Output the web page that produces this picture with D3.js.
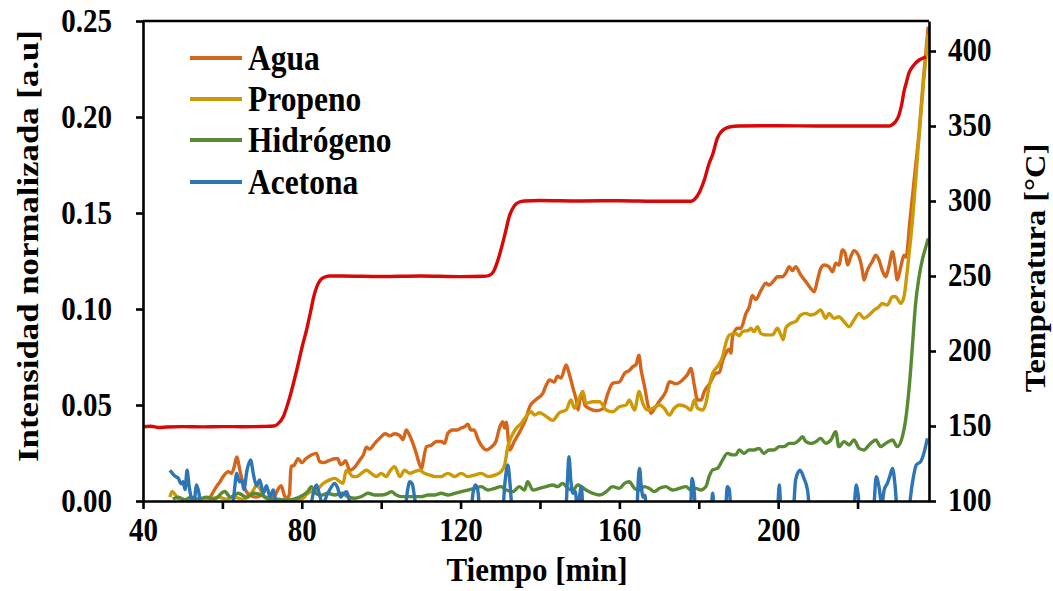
<!DOCTYPE html>
<html><head><meta charset="utf-8">
<script src="https://cdn.jsdelivr.net/npm/d3@7"></script>
<style>body{margin:0;background:#fff}svg{display:block}</style>
</head><body>
<svg id="c" width="1053" height="591"></svg>
<script>
// ---- data ----
const seriesNames = ["Agua", "Propeno", "Hidrógeno", "Acetona"];
const xTickValues = [40, 60, 80, 100, 120, 140, 160, 180, 200, 220];
const xTickLabels = [40, 80, 120, 160, 200];
const yLeftTicks = [0, 0.05, 0.10, 0.15, 0.20, 0.25];
const yRightTicks = [100, 150, 200, 250, 300, 350, 400];

const agua = [[56.4,0.000],[57.5,0.004],[58.5,0.0075],[59.4,0.010],[60.2,0.0127],[61.5,0.0153],[62.3,0.0144],[63.0,0.018],[63.6,0.023],[64.4,0.016],[65.2,0.009],[66.0,0.005],[67.0,0.003],[68.5,0.002],[70,0.003],[71.5,0.001],[73,0.002],[74,0.006],[74.8,0.008],[75.6,0.003],[76.3,0.001],[76.9,0.004],[77.3,0.018],[78.0,0.0185],[79.1,0.022],[80.0,0.020],[81.0,0.022],[82.4,0.024],[83.7,0.0248],[84.5,0.0205],[85.5,0.020],[86.8,0.021],[88.3,0.022],[89.1,0.022],[89.7,0.019],[90.4,0.0196],[91.0,0.021],[92.1,0.016],[93.5,0.018],[94.5,0.021],[95.5,0.024],[96.3,0.028],[97.1,0.027],[98.4,0.030],[100.0,0.0335],[101.0,0.035],[102.2,0.034],[103.4,0.035],[104.7,0.034],[105.5,0.032],[106.3,0.037],[107.2,0.034],[108.0,0.030],[108.8,0.025],[109.7,0.0188],[110.2,0.017],[110.6,0.021],[111.4,0.0283],[112.6,0.029],[113.9,0.031],[115.1,0.031],[116.0,0.030],[116.8,0.0353],[118.0,0.037],[119.2,0.037],[120.1,0.038],[121.0,0.0387],[121.8,0.040],[122.6,0.037],[123.4,0.037],[124.4,0.032],[125.2,0.029],[126.5,0.0266],[127.7,0.028],[128.9,0.031],[129.8,0.038],[130.6,0.0413],[131.1,0.038],[131.5,0.041],[132.4,0.0266],[133.5,0.031],[134.9,0.036],[136.5,0.043],[137.4,0.049],[139.1,0.053],[140.7,0.056],[141.5,0.060],[142.4,0.063],[143.6,0.062],[144.4,0.065],[145.3,0.064],[146.6,0.0708],[147.4,0.066],[148.3,0.059],[149.2,0.052],[149.6,0.0474],[150.0,0.052],[150.7,0.056],[151.3,0.050],[152.5,0.048],[154.2,0.047],[155.8,0.048],[157.1,0.056],[158.3,0.0613],[160.0,0.062],[161.3,0.0665],[162.5,0.068],[163.4,0.070],[164.2,0.071],[164.9,0.076],[165.5,0.068],[166.4,0.059],[167.2,0.050],[168.0,0.0457],[168.8,0.048],[170.1,0.052],[171.7,0.057],[172.6,0.0621],[174.3,0.061],[175.9,0.063],[177.2,0.066],[178.0,0.069],[178.9,0.060],[179.7,0.0526],[180.6,0.0526],[181.4,0.057],[182.7,0.061],[184.3,0.0665],[185.2,0.067],[186.0,0.073],[186.8,0.0769],[187.7,0.079],[188.1,0.077],[188.5,0.0856],[189.8,0.090],[190.6,0.090],[191.9,0.0977],[192.7,0.101],[193.5,0.107],[194.4,0.105],[195.6,0.1094],[196.9,0.1134],[197.7,0.1125],[199.0,0.115],[199.8,0.1168],[201.1,0.1168],[201.9,0.1186],[202.8,0.122],[203.6,0.120],[204.4,0.122],[205.7,0.1177],[207.0,0.1142],[208.2,0.1108],[209.1,0.109],[209.9,0.115],[210.7,0.121],[211.6,0.1229],[212.8,0.122],[213.7,0.1194],[214.5,0.1238],[215.3,0.1229],[216.2,0.1307],[216.9,0.129],[217.5,0.1229],[218.3,0.1273],[219.1,0.1304],[220.4,0.127],[221.2,0.1203],[221.6,0.1151],[222.5,0.1203],[223.7,0.1247],[224.6,0.128],[225.4,0.1255],[226.2,0.1203],[227.1,0.1168],[227.9,0.122],[228.8,0.1298],[229.4,0.1237],[230.0,0.1151],[230.9,0.122],[231.7,0.128],[232.2,0.127],[233.2,0.146],[234.4,0.170],[235.5,0.192],[236.6,0.220],[237.8,0.247]];

const propeno = [[46.8,0.002],[47.3,0.005],[48.2,0.003],[49.0,0.001],[50,0.001],[51.5,0.000],[53,0.001],[55,0.000],[57,0.001],[59,0.002],[61,0.001],[63,0.002],[65,0.001],[66.5,0.002],[67.6,0.005],[68.6,0.008],[69.6,0.006],[70.5,0.002],[72,0.001],[74,0.000],[76,0.001],[78,0.000],[80.3,0.0014],[81.5,0.004],[82.5,0.005],[83.7,0.0057],[85.3,0.009],[87.0,0.011],[88.3,0.0118],[89.6,0.010],[90.4,0.0092],[91.2,0.016],[92.1,0.0144],[92.9,0.0127],[93.8,0.0127],[95.0,0.0144],[96.3,0.016],[97.5,0.0144],[98.8,0.0127],[100.0,0.0144],[101.3,0.0127],[102.1,0.0153],[103.4,0.0179],[104.7,0.0127],[105.9,0.016],[107.2,0.0144],[108.4,0.0153],[109.7,0.016],[110.9,0.0144],[112.2,0.0135],[113.5,0.0127],[115.1,0.0127],[116.8,0.0144],[118.5,0.0127],[120.2,0.0144],[121.8,0.0127],[123.5,0.0135],[125.2,0.0144],[126.9,0.0127],[128.6,0.0135],[130.2,0.0153],[131.1,0.0188],[131.9,0.0283],[132.8,0.0335],[134.0,0.0378],[135.3,0.0405],[136.5,0.044],[137.8,0.0465],[138.6,0.0448],[139.9,0.046],[141.6,0.044],[143.2,0.042],[144.9,0.046],[146.6,0.0474],[147.8,0.0526],[148.7,0.0483],[149.9,0.0535],[150.8,0.057],[151.6,0.0509],[153.3,0.0517],[155.0,0.0517],[156.7,0.0474],[158.3,0.0465],[160.0,0.0491],[161.7,0.050],[162.5,0.0526],[163.8,0.0474],[165.0,0.057],[165.9,0.0509],[167.1,0.0474],[168.4,0.0483],[170.1,0.050],[171.3,0.0483],[172.6,0.0448],[173.8,0.0483],[175.1,0.050],[176.8,0.0491],[178.0,0.0474],[178.9,0.0526],[179.7,0.0483],[181.0,0.0474],[181.8,0.0509],[182.6,0.0595],[183.5,0.0665],[184.7,0.070],[186.0,0.0752],[186.8,0.0821],[187.7,0.0865],[189.3,0.0873],[190.2,0.086],[191.0,0.0882],[192.7,0.089],[193.1,0.090],[193.9,0.0882],[194.8,0.0908],[195.6,0.0873],[196.9,0.0865],[198.6,0.0865],[199.8,0.090],[200.7,0.0865],[201.3,0.084],[201.9,0.090],[203.2,0.0926],[204.4,0.0934],[205.7,0.0969],[207.0,0.0977],[208.2,0.0969],[209.5,0.0977],[210.7,0.0995],[212.0,0.0951],[212.8,0.0977],[214.1,0.0951],[215.3,0.096],[216.6,0.0934],[217.9,0.0908],[219.1,0.0943],[220.4,0.0977],[221.6,0.0951],[222.9,0.0969],[224.2,0.0995],[225.4,0.1012],[226.2,0.1029],[227.5,0.1021],[228.8,0.1064],[229.6,0.1064],[230.9,0.1029],[231.7,0.1064],[232.5,0.1194],[233.4,0.1368],[233.8,0.1455],[235.5,0.190],[236.7,0.220],[237.8,0.243]];

const hidrogeno = [[47.5,0.001],[49,0.002],[50.5,0.0005],[52,0.002],[54,0.001],[56,0.002],[58,0.001],[60.6,0.005],[62,0.002],[64,0.004],[66,0.002],[68,0.004],[70,0.003],[72,0.001],[74,0.001],[76,0.0005],[78,0.001],[80.3,0.003],[81.5,0.005],[82.4,0.0074],[83.5,0.004],[85,0.003],[86.5,0.004],[88.3,0.0031],[90.0,0.004],[91.6,0.0023],[93.3,0.0014],[95.0,0.0023],[96.7,0.004],[98.4,0.0031],[100.0,0.0031],[101.7,0.004],[102.6,0.0049],[103.8,0.0031],[105.1,0.0023],[106.7,0.0023],[108.4,0.0023],[110.1,0.0023],[111.8,0.0031],[113.5,0.0031],[115.1,0.004],[116.8,0.0031],[118.5,0.004],[120.2,0.0049],[121.8,0.0057],[123.5,0.0066],[125.2,0.0075],[126.9,0.0057],[128.6,0.0066],[130.2,0.0075],[131.5,0.0057],[133.2,0.0049],[134.8,0.0075],[136.1,0.0057],[136.9,0.010],[138.2,0.0057],[139.9,0.0066],[141.6,0.0075],[143.2,0.0083],[144.5,0.0075],[145.7,0.0092],[147.0,0.0066],[148.3,0.0057],[149.5,0.0083],[150.4,0.0075],[151.6,0.0057],[153.3,0.004],[155.0,0.0031],[156.7,0.0049],[158.3,0.0075],[160.0,0.0066],[161.3,0.0092],[162.5,0.010],[163.8,0.0066],[165.0,0.0057],[166.3,0.0075],[167.5,0.0066],[168.8,0.0049],[170.1,0.0066],[171.7,0.0075],[173.4,0.0057],[175.1,0.0066],[176.8,0.0075],[178.0,0.0057],[179.3,0.0066],[180.5,0.0057],[181.8,0.0075],[182.6,0.0127],[183.5,0.0162],[184.7,0.017],[186.0,0.0214],[187.2,0.0248],[188.5,0.024],[189.3,0.024],[190.2,0.0266],[191.4,0.0248],[192.7,0.0266],[193.9,0.0266],[195.2,0.0274],[196.4,0.0248],[197.7,0.0266],[199.0,0.0266],[200.3,0.0283],[201.5,0.0283],[202.8,0.030],[204.0,0.030],[205.3,0.0318],[206.1,0.0335],[207.0,0.0309],[208.2,0.030],[209.5,0.0309],[210.7,0.0326],[212.0,0.030],[213.3,0.0318],[214.5,0.0361],[215.3,0.0283],[216.6,0.0309],[217.9,0.0292],[219.1,0.0318],[220.4,0.0274],[221.6,0.0266],[222.9,0.0292],[224.6,0.0318],[225.8,0.0283],[227.1,0.030],[228.8,0.0318],[230.0,0.0283],[231.3,0.0335],[232.1,0.042],[233.0,0.059],[233.8,0.080],[234.6,0.1023],[235.5,0.1168],[236.3,0.1255],[237.1,0.1316],[237.8,0.1368]];

const acetona = [[46.8,0.016],[48.0,0.013],[48.9,0.0118],[49.6,0.009],[50.1,0.010],[50.6,0.006],[51.1,0.016],[51.6,0.008],[52.2,0.001],[52.7,-0.003],[53.5,0.0083],[54.1,0.004],[54.7,-0.004],[58,-0.004],[62.5,-0.004],[63.0,0.005],[63.6,0.0144],[64.3,0.010],[64.9,0.011],[65.4,0.006],[66.2,0.016],[67.1,0.0214],[67.8,0.014],[68.6,0.008],[69.4,0.011],[70.3,0.004],[71.1,0.008],[72.0,0.002],[72.8,0.0057],[73.6,-0.002],[74.5,-0.004],[82,-0.004],[82.9,0.004],[83.7,0.0083],[84.5,0.003],[85.3,-0.002],[86.3,0.003],[87.0,0.0057],[88.3,0.0092],[89.0,0.007],[89.8,0.002],[90.6,0.004],[91.3,0.0048],[92.0,0.0],[92.5,-0.004],[106.0,-0.004],[106.6,0.005],[107.2,0.010],[107.8,0.009],[108.4,0.002],[108.9,-0.004],[122.6,-0.004],[123.2,0.005],[123.7,0.0083],[124.3,0.006],[124.9,-0.004],[130.6,-0.004],[131.2,0.010],[131.9,0.0188],[132.5,0.008],[133.0,-0.004],[146.5,-0.004],[146.9,0.010],[147.3,0.0231],[147.8,0.010],[148.3,0.004],[148.9,0.005],[149.4,-0.004],[150.0,0.003],[150.4,0.0075],[150.9,-0.004],[164.4,-0.004],[164.8,0.012],[165.1,0.017],[165.5,0.008],[166.0,0.002],[166.4,0.003],[166.9,-0.004],[177.9,-0.004],[178.3,0.0118],[178.8,0.006],[179.2,-0.004],[183.1,-0.004],[183.5,0.004],[183.9,-0.004],[186.7,-0.004],[187.2,0.0074],[187.7,0.006],[188.1,-0.004],[199.8,-0.004],[200.3,0.0083],[200.7,-0.004],[203.8,-0.004],[204.4,0.011],[205.5,0.016],[206.5,0.0118],[207.4,0.0057],[208.0,-0.004],[219.0,-0.004],[219.7,0.0083],[220.1,0.004],[220.6,-0.004],[224.0,-0.004],[224.7,0.0127],[225.4,0.0075],[226.1,-0.002],[226.7,0.0057],[227.5,0.0092],[228.1,0.0127],[228.8,0.017],[229.4,0.0092],[230.0,-0.004],[232.8,-0.004],[233.8,0.0092],[234.8,0.0188],[235.9,0.0205],[236.7,0.0248],[237.6,0.0326]];

const temperatura = [[40,149.5],[42,149.8],[44,149.0],[46,149.3],[50,149.6],[55,149.4],[60,149.6],[65,149.5],[70,149.7],[73,150],[73.8,151],[75.3,156],[77.0,169.5],[78.7,187],[80.3,205],[81.2,214],[82.2,226],[83.0,236],[83.8,243],[84.6,247],[85.5,249],[87,250],[90,250],[100,249.7],[110,250],[120,249.6],[126,249.8],[127.3,250.5],[128.3,253],[129.8,264],[131.1,277],[132.3,290],[133.6,297],[134.8,299.3],[136.1,300],[140,300.3],[150,300],[160,300.2],[170,299.8],[178,299.8],[178.9,301],[180.2,306],[181.4,314],[182.6,325],[183.5,331],[184.7,342],[185.6,346],[186.5,348],[188,349.5],[190,350],[200,350.2],[210,350],[220,350],[228,350],[228.8,351],[229.6,353],[230.4,357],[231.1,364],[231.7,373],[232.3,379],[232.9,385],[233.6,388.5],[234.2,390.7],[235.5,394],[236.7,395.5],[237.3,396]];

const colors = ["#D4661C", "#CC9A06", "#578A32", "#2E75B6"];
const tempColor = "#D60808";

// ---- layout ----
const svg = d3.select("#c");
const L = 143, R = 929, T = 21, B = 501;
const FONT = "'Liberation Serif','Times New Roman',serif";
const SY = 1.15;

const x = d3.scaleLinear().domain([40, 238]).range([L, R]);
const y = d3.scaleLinear().domain([0, 0.25]).range([B, T]);
const y2 = d3.scaleLinear().domain([100, 420]).range([B, T]);

svg.append("defs").append("clipPath").attr("id", "clip")
  .append("rect").attr("x", L).attr("y", T).attr("width", R - L).attr("height", B - T);

const plot = svg.append("g").attr("clip-path", "url(#clip)");
const line = d3.line().x(d => x(d[0])).y(d => y(d[1])).curve(d3.curveMonotoneX);
const line2 = d3.line().x(d => x(d[0])).y(d => y2(d[1])).curve(d3.curveMonotoneX);

[agua, propeno, hidrogeno, acetona].forEach((s, i) => {
  plot.append("path").datum(s).attr("d", line).attr("fill", "none")
    .attr("stroke", colors[i]).attr("stroke-width", 3.4).attr("stroke-linejoin", "round");
});
plot.append("path").datum(temperatura).attr("d", line2).attr("fill", "none")
  .attr("stroke", tempColor).attr("stroke-width", 3.4).attr("stroke-linejoin", "round");

// ---- axes ----
function styleAxis(g) {
  g.select(".domain").attr("stroke", "#000").attr("stroke-width", 2.6);
  g.selectAll(".tick line").attr("stroke", "#000").attr("stroke-width", 2.6);
  g.selectAll("text").attr("font-family", FONT).attr("font-weight", "bold")
    .attr("font-size", 29).attr("fill", "#000");
}

const gx = svg.append("g").attr("transform", `translate(0,${B})`)
  .call(d3.axisBottom(x).tickValues(xTickValues).tickSizeInner(8).tickSizeOuter(0)
    .tickFormat(d => xTickLabels.includes(d) ? d : ""));
styleAxis(gx);
gx.selectAll("text").attr("y", 0).attr("dy", null).attr("dominant-baseline", "central")
  .attr("transform", `translate(0,29) scale(1,${SY})`);

const gy = svg.append("g").attr("transform", `translate(${L},0)`)
  .call(d3.axisLeft(y).tickValues(yLeftTicks).tickSizeInner(7).tickSizeOuter(0)
    .tickFormat(d3.format(".2f")));
styleAxis(gy);
gy.selectAll("text").attr("x", 0).attr("dy", null).attr("dominant-baseline", "central")
  .attr("transform", `translate(-31,-1) scale(1,${SY})`);

const gy2 = svg.append("g").attr("transform", `translate(${R},0)`)
  .call(d3.axisRight(y2).tickValues(yRightTicks).tickSizeInner(7).tickSizeOuter(0));
styleAxis(gy2);
gy2.selectAll("text").attr("x", 0).attr("dy", null).attr("dominant-baseline", "central")
  .attr("transform", `translate(19,-2) scale(1,${SY})`);

// top border of plot area
svg.append("line").attr("x1", L).attr("x2", R).attr("y1", T).attr("y2", T)
  .attr("stroke", "#000").attr("stroke-width", 2.6);

// ---- titles ----
function label(txt, tx, ty, rot, size, s) {
  const t = rot ? `translate(${tx},${ty}) rotate(-90) scale(${s},1)` : `translate(${tx},${ty}) scale(1,${s})`;
  svg.append("text").attr("transform", t).attr("text-anchor", "middle")
    .attr("dominant-baseline", "central").attr("font-family", FONT).attr("font-weight", "bold")
    .attr("font-size", size).attr("fill", "#000").text(txt);
}
label("Tiempo [min]", 537, 570, false, 31, 1.08);
label("Intensidad normalizada [a.u]", 28, 246, true, 30, 1.16);
label("Temperatura [°C]", 1035, 268, true, 30, 1.08);

// ---- legend ----
const legY = [58, 99, 140, 182];
seriesNames.forEach((n, i) => {
  svg.append("line").attr("x1", 190).attr("x2", 242).attr("y1", legY[i]).attr("y2", legY[i])
    .attr("stroke", colors[i]).attr("stroke-width", 4);
  svg.append("text").attr("transform", `translate(248,${legY[i]}) scale(1,${SY})`)
    .attr("dominant-baseline", "central").attr("font-family", FONT).attr("font-weight", "bold")
    .attr("font-size", 31.5).attr("fill", "#000").text(n);
});
</script>
</body></html>
